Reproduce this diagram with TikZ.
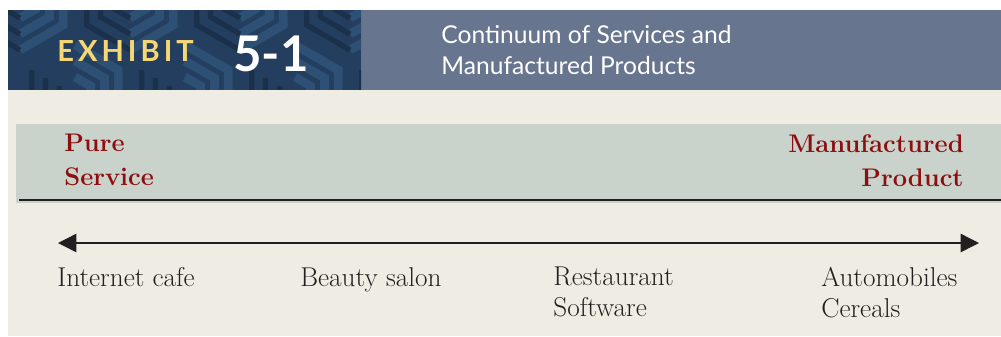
\documentclass[tikz,border=0pt]{standalone}
\usepackage{fontspec}
\setmainfont{Latin Modern Roman}
\newfontfamily\headfont{Lato}
\newfontfamily\exhibitfont[LetterSpace=14]{Lato}
\usetikzlibrary{calc,arrows.meta,positioning}

\definecolor{blueback}{RGB}{35,62,94}
\definecolor{bluelight}{RGB}{45,80,116}
\definecolor{bluedark}{RGB}{27,48,75}
\definecolor{slate}{RGB}{103,117,143}
\definecolor{cream}{RGB}{239,237,227}
\definecolor{bandgray}{RGB}{202,210,204}
\definecolor{endred}{RGB}{140,15,15}
\definecolor{exyellow}{RGB}{247,215,116}
\definecolor{inkblack}{RGB}{35,31,32}

\begin{document}
\begin{tikzpicture}[x=0.02cm,y=-0.02cm]

\tikzset{inner sep=0mm,
endlabel/.style={font=\fontsize{14.5}{19.3}\selectfont\bfseries,text=endred},
example/.style={font=\fontsize{15.5}{17.6}\selectfont,text=inkblack,anchor=north west,align=left},
continuum/.style={{Triangle[length=10.5pt,width=10.5pt]}-{Triangle[length=10.5pt,width=10.5pt]},line width=0.8pt,draw=inkblack},
maze/.style={line width=5pt,draw=bluelight}}

\useasboundingbox (0,0) rectangle (1001,336);
\fill[white] (0,0) rectangle (1001,336);

% Header band
\fill[slate] (361,10) rectangle (1001,90);
\begin{scope}
\clip (8,10) rectangle (361,90);
\fill[blueback] (8,10) rectangle (361,90);
\foreach \cx/\cy in {20/0,130/0,240/0,350/0,75/95,185/95,295/95,405/95}{
  \foreach \r in {18,34,50}{
    \draw[maze] ($(\cx,\cy)+(0,-\r)$) -- ++(0.866*\r,0.5*\r) -- ++(0,\r) -- ++(-0.866*\r,0.5*\r);
    \draw[maze,draw=bluedark,line width=3pt] ($(\cx,\cy)+(0,\r)$) -- ++(-0.866*\r,-0.5*\r) -- ++(0,-\r);
  }
}
\end{scope}

\node[anchor=base west,text=exyellow,font=\exhibitfont\bfseries\fontsize{16.5}{18}\selectfont] (exhibit) at (57,61) {EXHIBIT};
\node[anchor=base west,text=white,font=\headfont\bfseries\fontsize{28}{30}\selectfont] (number) at (233,71) {5-1};
\node[anchor=north west,text=white,align=left,font=\headfont\fontsize{14}{17.6}\selectfont] (title) at (441,25)
  {Continuum of Services and\\Manufactured Products};

% Body
\fill[cream] (8,90) rectangle (1001,336);
\fill[bandgray] (16,124) rectangle (1001,203);
\draw[line width=1.2pt,inkblack] (19,200) -- (1001,200);

\node[endlabel,anchor=north west,align=left] (pure) at (64,134) {Pure\\Service};
\node[endlabel,anchor=north east,align=right] (manufactured) at (964,134) {Manufactured\\Product};

% Arrow
\coordinate (leftend) at (58,243);
\coordinate (rightend) at (979,243);
\draw[continuum] (leftend) -- (rightend);

% Examples
\node[example] (internet) at (57,267) {Internet cafe};
\node[example] (beauty) at (300,267) {Beauty salon};
\node[example] (restaurant) at (553,267) {Restaurant\\Software};
\node[example] (automobiles) at (821,267) {Automobiles\\Cereals};

\end{tikzpicture}
\end{document}
